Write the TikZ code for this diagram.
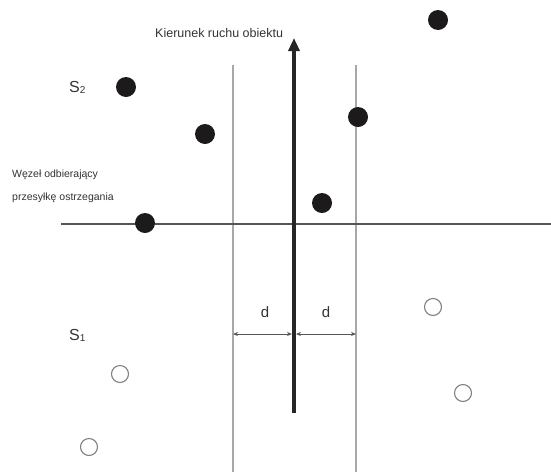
\documentclass[tikz,border=0pt]{standalone}
\usepackage{fontspec}
\setmainfont{Liberation Sans}
\usetikzlibrary{arrows.meta}
\definecolor{dotblack}{HTML}{1C1A1A}
\definecolor{thingray}{HTML}{A8A8A8}
\definecolor{axisgray}{HTML}{555555}
\definecolor{opengray}{HTML}{808080}
\tikzset{
  full/.style={circle, fill=dotblack, draw=none, minimum size=20pt, inner sep=0pt},
  empty/.style={circle, draw=opengray, line width=1.1pt, fill=white, minimum size=17pt, inner sep=0pt},
  thinline/.style={draw=thingray, line width=1.2pt},
  lbl/.style={font=\fontsize{10.5}{12}\selectfont, text=black!80, inner sep=0pt, anchor=west},
  dim/.style={draw=axisgray, line width=0.8pt, {Stealth[length=5pt,width=4pt]}-{Stealth[length=5pt,width=4pt]}},
}
\begin{document}
\begin{tikzpicture}[x=1pt, y=-1pt]
\useasboundingbox (0,0) rectangle (551,472);
% guide lines
\coordinate (Lt) at (233,65); \coordinate (Lb) at (233,472);
\coordinate (Rt) at (356,65); \coordinate (Rb) at (356,472);
\coordinate (Hl) at (61,224); \coordinate (Hr) at (551,224);
\coordinate (At) at (294,38); \coordinate (Ab) at (294,413);
\draw[thinline] (Lt) -- (Lb);
\draw[thinline] (Rt) -- (Rb);
\draw[draw=axisgray, line width=1.3pt] (Hl) -- (Hr);
\draw[draw=black!85, line width=3.8pt, -{Triangle[length=13pt,width=11pt]}] (Ab) -- (At);
% dimension arrows
\coordinate (dL) at (233,334); \coordinate (dM1) at (292,334);
\coordinate (dM2) at (296,334); \coordinate (dR) at (356,334);
\draw[dim] (dL) -- (dM1);
\draw[dim] (dM2) -- (dR);
\node[font=\fontsize{15}{16}\selectfont, text=black!80] (d1) at (265,312) {d};
\node[font=\fontsize{15}{16}\selectfont, text=black!80] (d2) at (326,312) {d};
% filled nodes
\node[full] (f1) at (438,20) {};
\node[full] (f2) at (126,87) {};
\node[full] (f3) at (205,134) {};
\node[full] (f4) at (358,117) {};
\node[full] (f5) at (322,203) {};
\node[full] (f6) at (145,223) {};
% empty nodes
\node[empty] (e1) at (120,374) {};
\node[empty] (e2) at (89,447) {};
\node[empty] (e3) at (433,307) {};
\node[empty] (e4) at (463,393) {};
% texts
\node[lbl, font=\fontsize{12.5}{13}\selectfont, anchor=base west] (title) at (155,37) {Kierunek ruchu obiektu};
\node[lbl, anchor=base west] (w1) at (12,177) {Węzeł odbierający};
\node[lbl, anchor=base west] (w2) at (12,200) {przesyłkę ostrzegania};
\node[inner sep=0pt, anchor=base west, text=black!80, font=\fontsize{16}{18}\selectfont] (s2) at (69,92) {S\raisebox{-1pt}{\fontsize{10}{11}\selectfont 2}};
\node[inner sep=0pt, anchor=base west, text=black!80, font=\fontsize{16}{18}\selectfont] (s1) at (69,340) {S\raisebox{-1pt}{\fontsize{10}{11}\selectfont 1}};
\end{tikzpicture}
\end{document}
